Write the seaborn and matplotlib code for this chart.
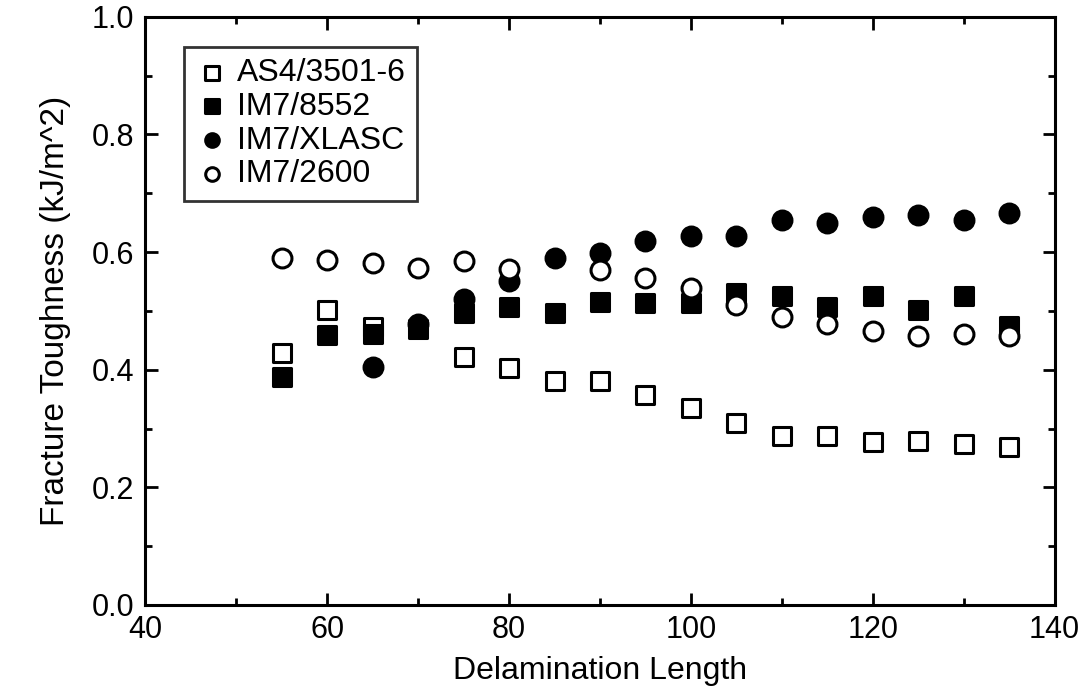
import pandas as pd
import numpy as np
import seaborn as sns
import matplotlib.pyplot as plt
from matplotlib.ticker import MultipleLocator

# Data
x_as4 = [55, 60, 65, 75, 80, 85, 90, 95, 100, 105, 110, 115, 120, 125, 130, 135]
y_as4 = [0.428, 0.502, 0.473, 0.421, 0.403, 0.380, 0.380, 0.357, 0.335,
         0.309, 0.287, 0.287, 0.277, 0.278, 0.273, 0.268]

x_8552 = [55, 60, 65, 70, 75, 80, 85, 90, 95, 100, 105, 110, 115, 120, 125, 130, 135]
y_8552 = [0.388, 0.459, 0.460, 0.469, 0.496, 0.507, 0.497, 0.515, 0.514,
          0.514, 0.530, 0.525, 0.506, 0.525, 0.502, 0.525, 0.475]

x_xlasc = [65, 70, 75, 80, 85, 90, 95, 100, 105, 110, 115, 120, 125, 130, 135]
y_xlasc = [0.405, 0.478, 0.520, 0.551, 0.590, 0.599, 0.619, 0.627, 0.628,
           0.654, 0.650, 0.659, 0.663, 0.655, 0.667]

x_2600 = [55, 60, 65, 70, 75, 80, 90, 95, 100, 105, 110, 115, 120, 125, 130, 135]
y_2600 = [0.590, 0.586, 0.582, 0.573, 0.584, 0.572, 0.569, 0.556, 0.539,
          0.510, 0.490, 0.478, 0.465, 0.458, 0.460, 0.458]

series = [
    ('AS4/3501-6', x_as4, y_as4, 's', 'white'),
    ('IM7/8552', x_8552, y_8552, 's', 'black'),
    ('IM7/XLASC', x_xlasc, y_xlasc, 'o', 'black'),
    ('IM7/2600', x_2600, y_2600, 'o', 'white'),
]

sns.set_theme(style='ticks')
plt.rcParams['font.family'] = ['Liberation Sans', 'DejaVu Sans']
plt.rcParams['text.color'] = 'black'
plt.rcParams['axes.labelcolor'] = 'black'

fig = plt.figure(figsize=(10.85, 6.97), dpi=100)
ax = fig.add_axes([0.134, 0.132, 0.838, 0.844])

for name, xs, ys, marker, face in series:
    df = pd.DataFrame({'x': xs, 'y': ys})
    sns.scatterplot(data=df, x='x', y='y', ax=ax, marker=marker, s=185,
                    facecolor=face, edgecolor='black', linewidth=2.2,
                    label=name, zorder=3)

ax.set_xlim(40, 140)
ax.set_ylim(0.0, 1.0)
ax.xaxis.set_major_locator(MultipleLocator(20))
ax.xaxis.set_minor_locator(MultipleLocator(10))
ax.yaxis.set_major_locator(MultipleLocator(0.2))
ax.yaxis.set_minor_locator(MultipleLocator(0.1))
ax.yaxis.set_major_formatter(plt.FormatStrFormatter('%.1f'))

ax.tick_params(which='both', direction='in', top=True, right=True,
               width=2, labelsize=22, color='black', labelcolor='black')
ax.tick_params(which='major', length=9)
ax.tick_params(which='minor', length=5)
ax.tick_params(axis='x', which='major', pad=7)
ax.tick_params(axis='y', which='major', pad=8)
for sp in ax.spines.values():
    sp.set_linewidth(2.2)
    sp.set_color('black')

ax.set_xlabel('Delamination Length', fontsize=23, labelpad=8)
ax.set_ylabel('Fracture Toughness (kJ/m^2)', fontsize=24, labelpad=15)

leg = ax.legend(loc='upper left', bbox_to_anchor=(0.043, 0.949), fontsize=23,
                frameon=True, fancybox=False, edgecolor='black',
                borderpad=0.35, labelspacing=0.12, handletextpad=0.3,
                handlelength=1.0, markerscale=0.72, borderaxespad=0)
leg.get_frame().set_linewidth(2)

fig.savefig('out.png', dpi=100)
